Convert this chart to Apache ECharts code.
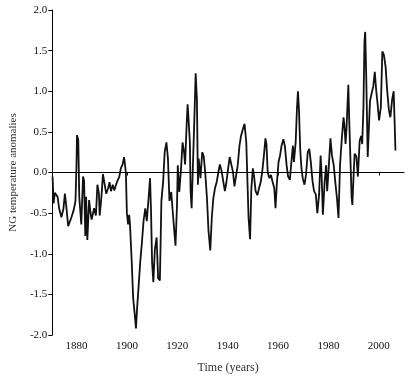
<!DOCTYPE html>
<html>
<head>
<meta charset="utf-8">
<title>NG temperature anomalies</title>
<script src="https://cdn.jsdelivr.net/npm/echarts@6/dist/echarts.min.js"></script>
<style>
  html, body { margin: 0; padding: 0; background: #fff; }
  #main { width: 410px; height: 379px; }
</style>
</head>
<body>
<div id="main"></div>
<script>
// values
var years = [
  1870.5, 1870.9, 1871.4, 1871.8, 1872.5, 1873.1, 1874.0, 1874.8, 1875.4, 1875.9,
  1876.7, 1877.4, 1878.0, 1878.9, 1879.6, 1880.0, 1880.2, 1880.7, 1881.1, 1881.9,
  1882.6, 1883.0, 1883.5, 1883.8, 1884.3, 1885.0, 1885.5, 1886.0, 1887.0, 1887.7,
  1888.3, 1888.9, 1889.2, 1889.9, 1890.5, 1891.2, 1891.8, 1892.5, 1893.1, 1893.7,
  1894.4, 1895.0, 1895.7, 1896.3, 1897.0, 1897.6, 1898.3, 1898.9, 1899.3, 1899.6,
  1900.0, 1900.5, 1900.9, 1901.2, 1901.9, 1902.5, 1903.2, 1903.6, 1904.1, 1904.7,
  1905.3, 1906.0, 1906.6, 1907.3, 1907.9, 1908.6, 1909.2, 1909.6, 1910.0, 1910.5,
  1911.1, 1911.8, 1912.4, 1913.1, 1913.7, 1914.4, 1915.0, 1915.7, 1916.3, 1916.9,
  1917.6, 1918.3, 1918.9, 1919.3, 1919.9, 1920.2, 1920.8, 1921.5, 1922.1, 1922.7,
  1923.1, 1923.7, 1924.1, 1924.4, 1925.0, 1925.3, 1925.7, 1926.3, 1926.9, 1927.3,
  1927.8, 1928.2, 1928.5, 1929.2, 1929.9, 1930.5, 1931.1, 1931.8, 1932.4, 1933.1,
  1933.7, 1934.3, 1935.0, 1935.7, 1936.3, 1936.9, 1937.6, 1938.2, 1938.9, 1939.5,
  1940.2, 1940.8, 1941.5, 1942.1, 1942.7, 1943.4, 1944.0, 1944.7, 1945.3, 1946.0,
  1946.7, 1947.4, 1947.9, 1948.3, 1948.9, 1949.4, 1950.0, 1950.5, 1951.1, 1951.8,
  1952.4, 1953.1, 1953.7, 1954.4, 1955.0, 1955.4, 1955.9, 1956.6, 1957.2, 1957.8,
  1958.5, 1959.0, 1959.5, 1960.2, 1960.8, 1961.4, 1962.1, 1962.7, 1963.4, 1964.0,
  1964.7, 1965.3, 1965.9, 1966.3, 1967.0, 1967.5, 1967.9, 1968.3, 1968.8, 1969.3,
  1969.8, 1970.5, 1971.1, 1971.8, 1972.4, 1973.0, 1973.7, 1974.3, 1975.0, 1975.6,
  1976.3, 1976.9, 1977.3, 1977.8, 1978.5, 1979.1, 1979.5, 1980.1, 1980.8, 1981.4,
  1982.1, 1982.7, 1983.4, 1984.0, 1984.6, 1985.3, 1986.0, 1986.3, 1986.8, 1987.2,
  1987.9, 1988.3, 1988.8, 1989.2, 1989.5, 1989.9, 1990.4, 1991.1, 1991.7, 1992.4,
  1993.0, 1993.4, 1993.9, 1994.3, 1994.6, 1995.0, 1995.6, 1996.0, 1996.5, 1997.2,
  1997.8, 1998.4, 1999.0, 1999.5, 2000.1, 2000.8, 2001.4, 2002.0, 2002.7, 2003.3,
  2004.0, 2004.6, 2005.3, 2005.9, 2006.3, 2006.6
];
var anomalies = [
  -0.05, -0.38, -0.25, -0.23, -0.30, -0.44, -0.55, -0.45, -0.26, -0.40,
  -0.66, -0.68, -0.55, -0.46, -0.35, 0.10, 0.46, 0.40, -0.30, -0.64,
  -0.05, -0.10, -0.78, -0.30, -0.83, -0.34, -0.48, -0.58, -0.44, -0.53,
  -0.15, -0.26, -0.53, -0.30, -0.02, -0.03, -0.26, -0.20, -0.12, -0.23,
  -0.15, -0.22, -0.15, -0.10, -0.05, 0.05, 0.10, 0.19, 0.20, 0.00,
  -0.50, -0.64, -0.52, -0.62, -1.08, -1.55, -1.77, -1.92, -1.65, -1.38,
  -1.10, -0.85, -0.60, -0.44, -0.60, -0.32, -0.07, -0.50, -1.10, -1.35,
  -0.95, -0.80, -1.30, -1.33, -0.35, -0.11, 0.25, 0.37, 0.17, -0.35,
  -0.24, -0.52, -0.75, -0.90, -0.40, 0.09, -0.24, 0.05, 0.37, 0.25,
  0.10, 0.57, 0.84, 0.70, 0.37, -0.24, -0.44, -0.44, 0.78, 1.22,
  0.90, -0.15, 0.17, -0.07, 0.25, 0.20, 0.00, -0.32, -0.72, -0.96,
  -0.56, -0.32, -0.19, -0.11, 0.00, 0.10, 0.02, -0.10, -0.23, -0.12,
  0.05, 0.19, 0.21, 0.01, -0.17, -0.03, 0.09, 0.33, 0.45, 0.53,
  0.60, 0.37, -0.15, -0.56, -0.82, -0.20, 0.05, -0.05, -0.23, -0.28,
  -0.20, -0.12, 0.00, 0.21, 0.42, 0.35, 0.00, -0.07, -0.03, -0.11,
  -0.19, -0.44, -0.15, 0.13, 0.21, 0.33, 0.41, 0.33, 0.09, -0.05,
  -0.09, 0.13, 0.33, 0.13, 0.37, 0.78, 1.00, 0.78, 0.29, 0.05,
  -0.07, -0.15, -0.03, 0.25, 0.29, 0.13, -0.11, -0.23, -0.27, -0.50,
  -0.27, 0.21, -0.03, -0.52, -0.11, 0.09, -0.23, 0.05, 0.42, 0.21,
  0.09, -0.11, -0.32, -0.56, 0.09, 0.41, 0.68, 0.60, 0.35, 0.55,
  1.08, 0.60, 0.10, -0.30, -0.40, -0.10, 0.23, 0.20, -0.05, 0.39,
  0.45, 0.35, 0.80, 1.61, 1.73, 1.20, 0.19, 0.50, 0.88, 0.98,
  1.06, 1.24, 1.00, 0.85, 0.64, 0.80, 1.49, 1.45, 1.30, 1.02,
  0.77, 0.68, 0.90, 1.00, 0.60, 0.27
];
var xTicks = [1880, 1900, 1920, 1940, 1960, 1980, 2000];

var seriesData = years.map(function (y, i) { return [y, anomalies[i]]; });

var chart = echarts.init(document.getElementById('main'));
var serif = '"Liberation Serif", "DejaVu Serif", serif';

var option = {
    animation: false,
    backgroundColor: '#fff',
    grid: { left: 43, right: 6, top: 10, bottom: 40 },
    xAxis: {
        type: 'value',
        min: 1870.4,
        max: 2010,
        name: 'Time (years)',
        nameLocation: 'middle',
        nameGap: 27,
        nameTextStyle: { fontFamily: serif, fontSize: 12, color: '#333' },
        axisLine: { lineStyle: { color: '#000', width: 1 } },
        axisTick: { show: true, length: 3, customValues: xTicks, lineStyle: { color: '#000' } },
        axisLabel: {
            customValues: xTicks, fontFamily: serif, fontSize: 11, color: '#111', margin: 6,
            formatter: function (v) { return String(Math.round(v)); }
        },
        splitLine: { show: false }
    },
    yAxis: {
        type: 'value',
        min: -2,
        max: 2,
        interval: 0.5,
        name: 'NG temperature anomalies',
        nameLocation: 'middle',
        nameGap: 31,
        nameTextStyle: { fontFamily: serif, fontSize: 11, color: '#333' },
        axisLine: { show: true, lineStyle: { color: '#000', width: 1 } },
        axisTick: { show: true, length: 4, lineStyle: { color: '#000' } },
        axisLabel: {
            fontFamily: serif, fontSize: 11, color: '#111', margin: 5,
            formatter: function (v) { return v.toFixed(1); }
        },
        splitLine: { show: false }
    },
    series: [{
        type: 'line',
        data: seriesData,
        showSymbol: false,
        lineStyle: { color: '#111', width: 1.8 },
        markLine: {
            silent: true,
            symbol: 'none',
            label: { show: false },
            lineStyle: { color: '#000', width: 1.2, type: 'solid' },
            data: [{ yAxis: 0 }]
        }
    }]
};

chart.setOption(option);
</script>
</body>
</html>
